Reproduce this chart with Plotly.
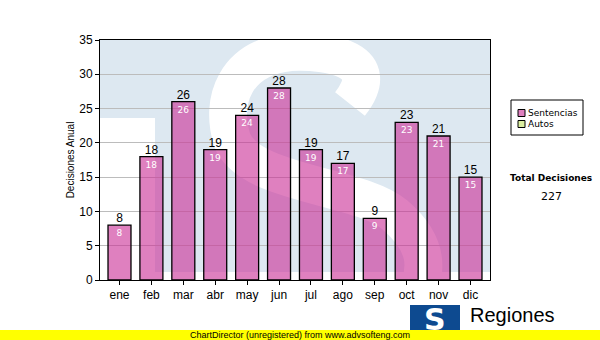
import plotly.graph_objects as go

months = ["ene", "feb", "mar", "abr", "may", "jun", "jul", "ago", "sep", "oct", "nov", "dic"]
sentencias = [8, 18, 26, 19, 24, 28, 19, 17, 9, 23, 21, 15]
autos = [0] * 12
total = 227
series_names = ["Sentencias", "Autos"]
series_colors = ["rgba(203,50,152,0.62)", "#dbeea0"]

# pixel geometry helpers (plot area: x 100..490, y 40..280)
L, R, T, B = 100, 490, 40, 280
def px(x):
    return (x - L) / (R - L)
def py(y):
    return (B - y) / (B - T)

fig = go.Figure()
fig.add_trace(go.Bar(
    x=months, y=sentencias, name=series_names[0],
    marker=dict(color=series_colors[0], line=dict(color="black", width=1.3)),
    text=[str(v) for v in sentencias], textposition="inside", insidetextanchor="end",
    textfont=dict(color="white", size=9, family="DejaVu Sans"),
    cliponaxis=False, showlegend=False,
))
fig.add_trace(go.Bar(
    x=months, y=autos, name=series_names[1],
    marker=dict(color=series_colors[1], line=dict(color="black", width=0)),
    showlegend=False, hoverinfo="skip",
))
# outer value labels
fig.add_trace(go.Scatter(
    x=months, y=sentencias, mode="text", text=[str(v) for v in sentencias],
    textposition="top center", textfont=dict(color="black", size=12, family="Liberation Sans"),
    showlegend=False, hoverinfo="skip", cliponaxis=False,
))

shapes = []
# faded logo background: white areas on light blue
shapes.append(dict(type="rect", xref="paper", yref="paper", x0=px(100), x1=px(155), y0=py(272), y1=py(118),
                   fillcolor="white", line=dict(width=0), layer="below"))
shapes.append(dict(type="rect", xref="paper", yref="paper", x0=0, x1=1, y0=0, y1=py(272),
                   fillcolor="white", line=dict(width=0), layer="below"))
def P(x, y):
    return f"{px(x):.4f},{py(y):.4f}"
s_path = ("M " + P(350, 104) + " C " + P(385, 60) + " " + P(330, 50) + " " + P(290, 52)
          + " C " + P(235, 58) + " " + P(220, 100) + " " + P(232, 140)
          + " C " + P(250, 185) + " " + P(360, 185) + " " + P(395, 215)
          + " C " + P(430, 245) + " " + P(425, 270) + " " + P(420, 285))
shapes.append(dict(type="path", xref="paper", yref="paper", path=s_path,
                   line=dict(color="white", width=38), layer="below"))
# manual legend box
shapes.append(dict(type="rect", xref="paper", yref="paper", x0=px(511), x1=px(583), y0=py(135), y1=py(100),
                   fillcolor="white", line=dict(color="black", width=1), layer="above"))
annotations = []
for i, (nm, col) in enumerate(zip(series_names, series_colors)):
    yc = 113 + i * 11
    shapes.append(dict(type="rect", xref="paper", yref="paper", x0=px(518), x1=px(525), y0=py(yc + 3.5), y1=py(yc - 3.5),
                       fillcolor="white", line=dict(width=0), layer="above"))
    shapes.append(dict(type="rect", xref="paper", yref="paper", x0=px(518), x1=px(525), y0=py(yc + 3.5), y1=py(yc - 3.5),
                       fillcolor=col, line=dict(color="black", width=1), layer="above"))
    annotations.append(dict(xref="paper", yref="paper", x=px(526), y=py(yc), text=nm, showarrow=False,
                            font=dict(size=9, family="DejaVu Sans", color="black"),
                            xanchor="left", yanchor="middle"))
# yellow footer
shapes.append(dict(type="rect", xref="paper", yref="paper", x0=px(0), x1=px(600), y0=py(340), y1=py(330),
                   fillcolor="#ffff00", line=dict(width=0), layer="above"))
# logo square
shapes.append(dict(type="rect", xref="paper", yref="paper", x0=px(410), x1=px(460), y0=py(330), y1=py(305),
                   fillcolor="#0d4a90", line=dict(width=0), layer="above"))

annotations += [
    dict(xref="paper", yref="paper", x=px(551), y=py(178), text="<b>Total Decisiones</b>", showarrow=False,
         font=dict(size=9, family="DejaVu Sans", color="black"), xanchor="center", yanchor="middle"),
    dict(xref="paper", yref="paper", x=px(551), y=py(196), text=str(total), showarrow=False,
         font=dict(size=11, family="DejaVu Sans", color="black"), xanchor="center", yanchor="middle"),
    dict(xref="paper", yref="paper", x=px(300), y=py(335), text="ChartDirector (unregistered) from www.advsofteng.com",
         showarrow=False, font=dict(size=9, family="Liberation Sans", color="black"), xanchor="center", yanchor="middle"),
    dict(xref="paper", yref="paper", x=px(435), y=py(319), text="<b>S</b>", showarrow=False,
         font=dict(size=30, family="DejaVu Sans", color="white"), xanchor="center", yanchor="middle"),
    dict(xref="paper", yref="paper", x=px(468), y=py(315), text="Regiones", showarrow=False,
         font=dict(size=20, family="Liberation Sans", color="black"), xanchor="left", yanchor="middle"),
]

fig.update_layout(
    width=600, height=340,
    margin=dict(l=L, r=600 - R, t=T, b=340 - B, autoexpand=False),
    paper_bgcolor="white", plot_bgcolor="#dde8f1",
    barmode="overlay", bargap=0.28,
    showlegend=False,
    shapes=shapes, annotations=annotations,
    xaxis=dict(showline=True, linecolor="black", linewidth=1, mirror=True, ticks="outside", ticklen=4,
               tickcolor="black", tickfont=dict(size=12, family="Liberation Sans", color="black"),
               fixedrange=True),
    yaxis=dict(range=[0, 35], dtick=5, showline=True, linecolor="black", linewidth=1, mirror=True,
               ticks="outside", ticklen=4, tickcolor="black", gridcolor="#bcbcbc", gridwidth=1,
               tickfont=dict(size=12, family="Liberation Sans", color="black"),
               title=dict(text="Decisiones Anual", font=dict(size=10, family="Liberation Sans", color="black"), standoff=2),
               zeroline=False),
)

fig.write_html("out.html", config={"displayModeBar": False},
               post_script="document.body.style.margin='0';document.body.style.overflow='hidden';")
